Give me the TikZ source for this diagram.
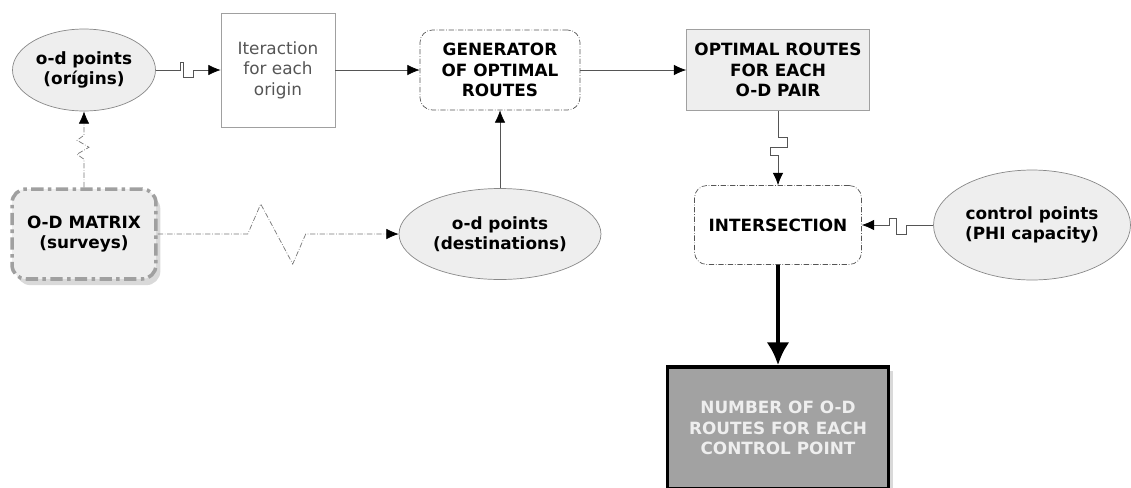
\documentclass[tikz,border=0pt]{standalone}
\usepackage{fontspec}
\setmainfont{DejaVu Sans}
\usepackage{tikz}
\usetikzlibrary{arrows,arrows.meta,shapes.geometric,shadows}
\definecolor{linegray}{HTML}{555555}
\definecolor{bordgray}{HTML}{A0A0A0}
\definecolor{palegray}{HTML}{EEEEEE}
\definecolor{darkfill}{HTML}{A2A2A2}

\begin{document}
\begin{tikzpicture}[x=0.02cm, y=-0.02cm, every node/.style={align=center, inner sep=0pt, font=\fontsize{9.6}{11.6}\selectfont\bfseries}]
        \tikzset{oval/.style={ellipse, draw=linegray!70, fill=palegray, minimum width=2.86cm, minimum height=1.64cm}}
        \tikzset{dotbox/.style={rectangle, rounded corners=7pt, draw=linegray, densely dashdotted, minimum width=3.2cm, minimum height=1.6cm}}
        \useasboundingbox (0,0) rectangle (1131,487);
        \node[oval] (orig) at (84,70) {o-d points\\(orígins)};
        \node[draw=bordgray, text=linegray, font=\fontsize{9.6}{11.6}\selectfont, minimum width=2.28cm, minimum height=2.28cm] (iter) at (278,70) {Iteraction\\for each\\origin};
        \node[dotbox] (gen) at (500,70) {GENERATOR\\OF OPTIMAL\\ROUTES};
        \node[draw=bordgray, fill=palegray, minimum width=3.66cm, minimum height=1.62cm] (opt) at (778,70) {OPTIMAL ROUTES\\FOR EACH\\O-D PAIR};
        % second row
        \node[rectangle, rounded corners=8pt, draw=bordgray, line width=2pt, dash pattern=on 7pt off 2.5pt on 2pt off 2.5pt, fill=palegray, drop shadow={shadow xshift=2.5pt, shadow yshift=-3.5pt, opacity=0.3}, minimum width=2.88cm, minimum height=1.8cm] (odm) at (84,234) {O-D MATRIX\\(surveys)};
        \node[oval, minimum width=4.04cm, minimum height=1.82cm] (dest) at (500,234) {o-d points\\(destinations)};
        \node[dotbox, minimum width=3.34cm, minimum height=1.58cm] (inter) at (778,225) {INTERSECTION};
        \node[oval, minimum width=3.94cm, minimum height=2.2cm] (ctrl) at (1032,225) {control points\\(PHI capacity)};
        \node[draw=black, line width=2pt, fill=darkfill, text=palegray, drop shadow={shadow xshift=2.5pt, shadow yshift=-2pt, opacity=0.3}, minimum width=4.42cm, minimum height=2.44cm] (num) at (778,428) {NUMBER OF O-D\\ROUTES FOR EACH\\CONTROL POINT};
        % connectors
        \tikzset{flow/.style={-{Latex[length=7pt,width=6pt,black]}, draw=linegray}};
        \tikzset{dotflow/.style={-{Latex[length=7pt,width=6pt,black]}, draw=linegray!80, densely dashdotted}};
        \path (iter) edge [flow] (gen);
        \path (gen) edge [flow] (opt);
        \path (dest) edge [flow] (gen);
        \draw[flow] (orig.east) -- ++(25,0) -- ++(0,-8) -- ++(3,0) -- ++(0,15) -- ++(10,0) -- ++(0,-7) -- (iter.west);
        \draw[flow] (opt.south) -- ++(0,27) -- ++(9,0) -- ++(0,10) -- ++(-17,0) -- ++(0,8) -- ++(8,0) -- (inter.north);
        \draw[flow] (ctrl.west) -- ++(-27,0) -- ++(0,9) -- ++(-10,0) -- ++(0,-16) -- ++(-7,0) -- ++(0,7) -- (inter.east);
        \draw[dotflow] (odm.north) -- ++(0,-28) -- ++(-7,-5) -- ++(12,-7) -- ++(-12,-7) -- ++(7,-5) -- (orig.south);
        \draw[dotflow] (odm.east) -- ++(90,0) -- ++(13,-30) -- ++(32,60) -- ++(13,-30) -- (dest.west);
        \path (inter) edge [-{Latex[length=13pt,width=13pt]}, draw=black, line width=2.5pt] (num);
      \end{tikzpicture}
\end{document}
